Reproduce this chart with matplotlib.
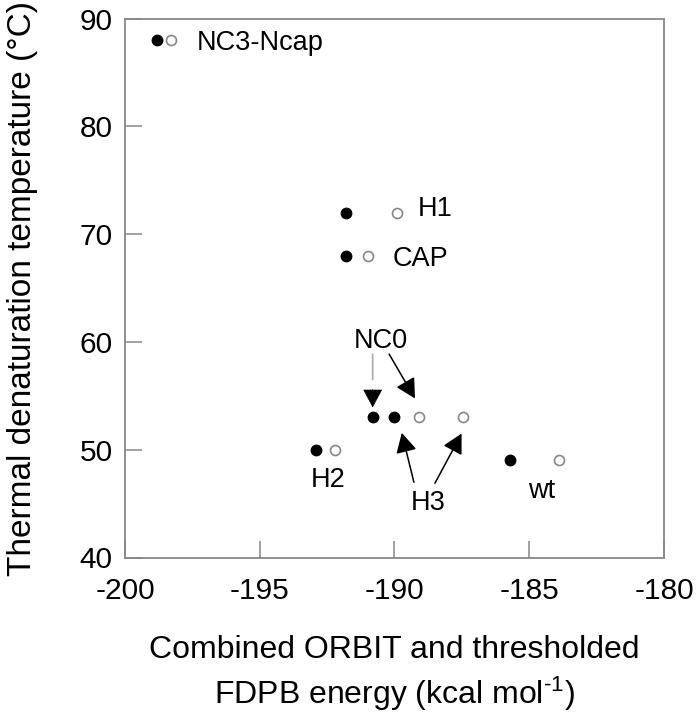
import matplotlib
matplotlib.use("Agg")
import matplotlib.pyplot as plt

plt.rcParams['font.family'] = ['Liberation Sans', 'DejaVu Sans']
plt.rcParams['mathtext.fontset'] = 'custom'
plt.rcParams['mathtext.rm'] = 'Liberation Sans'
plt.rcParams['mathtext.it'] = 'Liberation Sans:italic'
plt.rcParams['mathtext.bf'] = 'Liberation Sans:bold'
plt.rcParams['axes.unicode_minus'] = False

# Data
variants = ["NC3-Ncap", "H1", "CAP", "NC0", "H3", "H2", "wt"]
tm = [88, 72, 68, 53, 53, 50, 49]
energy_filled = [-198.8, -191.8, -191.8, -190.8, -190.0, -192.9, -185.7]
energy_open = [-198.3, -189.9, -191.0, -189.1, -187.45, -192.2, -183.9]

x_ticks = [-200, -195, -190, -185, -180]
y_ticks = [40, 50, 60, 70, 80, 90]

fig = plt.figure(figsize=(6.96, 7.2), dpi=100)
ax = fig.add_axes([125/696, 1 - 557.5/720, (664-125)/696, (557.5-18.5)/720])

ax.plot(energy_filled, tm, 'o', color='black', markersize=7.5, linestyle='none', zorder=3)
ax.plot(energy_open, tm, 'o', markerfacecolor='white', markeredgecolor='#888888',
        markeredgewidth=1.2, markersize=7.2, linestyle='none', zorder=3)

ax.set_xlim(-200, -180)
ax.set_ylim(40, 90)
ax.set_xticks(x_ticks)
ax.set_xticklabels([str(v) for v in x_ticks])
ax.set_yticks(y_ticks)
ax.set_yticklabels([str(v) for v in y_ticks])
ax.tick_params(axis='both', direction='in', length=12.5, width=1.1, color='#888888',
               labelsize=21.5)
ax.tick_params(axis='x', pad=14)
ax.tick_params(axis='y', pad=9)
for s in ax.spines.values():
    s.set_color('#888888')
    s.set_linewidth(1.3)

lab_fs = 19.5
ax.text(-197.33, 87.04, "NC3-Ncap", fontsize=lab_fs, ha='left', va='baseline')
ax.text(-189.13, 71.67, "H1", fontsize=lab_fs, ha='left', va='baseline')
ax.text(-190.06, 67.04, "CAP", fontsize=lab_fs, ha='left', va='baseline')
ax.text(-190.50, 59.42, "NC0", fontsize=lab_fs, ha='center', va='baseline')
ax.text(-192.47, 46.52, "H2", fontsize=lab_fs, ha='center', va='baseline')
ax.text(-188.76, 44.38, "H3", fontsize=lab_fs, ha='center', va='baseline')
ax.text(-184.53, 45.50, "wt", fontsize=lab_fs, ha='center', va='baseline')

astyle = '-|>,head_length=0.6,head_width=0.32'
def arrow(start, tip):
    ax.annotate('', xy=tip, xytext=start,
                arrowprops=dict(arrowstyle=astyle, color='black', lw=1.1,
                                mutation_scale=20, shrinkA=0, shrinkB=0))

# NC0 arrows
ax.annotate('', xy=(-190.81, 53.92), xytext=(-190.81, 58.87),
            arrowprops=dict(arrowstyle='-', color='#aaaaaa', lw=1.2, shrinkA=0, shrinkB=20))
ax.annotate('', xy=(-190.81, 53.92), xytext=(-190.81, 55.6),
            arrowprops=dict(arrowstyle=astyle, color='black', lw=0.5,
                            mutation_scale=20, shrinkA=0, shrinkB=0))
arrow((-190.20, 58.87), (-189.24, 54.75))
# H3 arrows
arrow((-189.28, 46.98), (-189.73, 51.56))
arrow((-188.50, 46.89), (-187.51, 51.50))

ax.set_ylabel("Thermal denaturation temperature (\u00b0C)", fontsize=24, labelpad=30)
ax.set_xlabel("Combined ORBIT and thresholded\nFDPB energy (kcal mol$^{\\text{-1}}$)",
              fontsize=23, labelpad=22, linespacing=1.3)

fig.savefig("out.png", dpi=100)
